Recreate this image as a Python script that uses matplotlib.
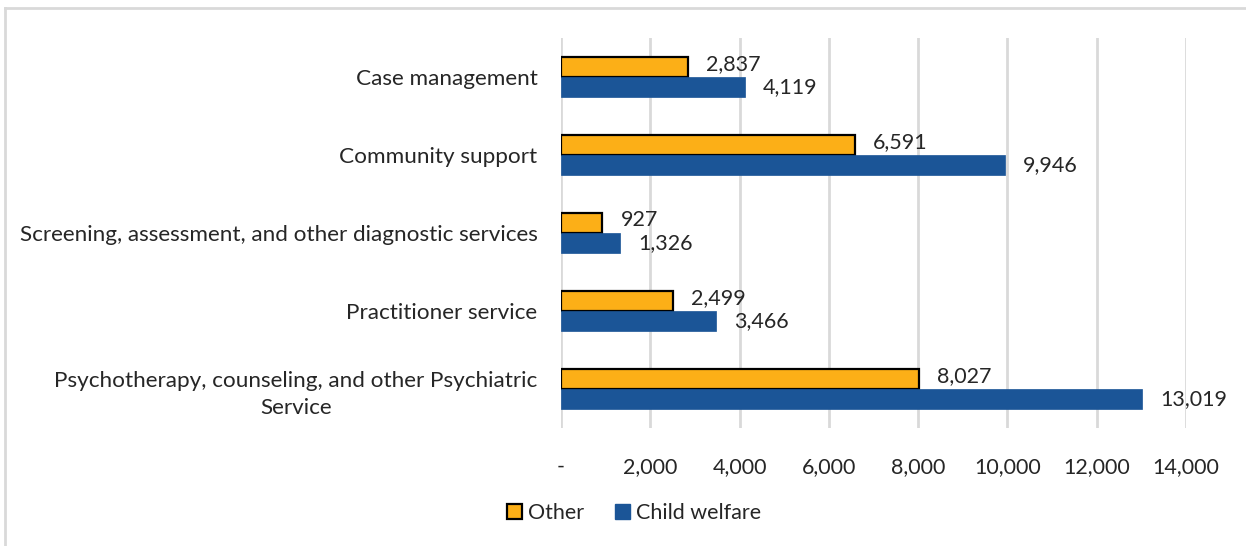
import matplotlib
matplotlib.use("Agg")
import matplotlib.pyplot as plt
import numpy as np
from matplotlib.lines import Line2D

categories = ["Case management", "Community support",
              "Screening, assessment, and other diagnostic services",
              "Practitioner service",
              "Psychotherapy, counseling, and other Psychiatric\nService"]
other = [2837, 6591, 927, 2499, 8027]
child_welfare = [4119, 9946, 1326, 3466, 13019]
xticks = [0, 2000, 4000, 6000, 8000, 10000, 12000, 14000]
xticklabels = ["-", "2,000", "4,000", "6,000", "8,000", "10,000", "12,000", "14,000"]

plt.rcParams['font.family'] = ['Lato', 'DejaVu Sans']
fs = 15.5
txt = '#262626'
fig = plt.figure(figsize=(12.46, 5.46), dpi=100)
W, H = 1246, 546
ax = fig.add_axes([561 / W, 1 - 428 / H, (1186 - 561) / W, (428 - 38) / H])

y = np.arange(len(categories))
h = 0.262
orange = '#FCAF17'
blue = '#1B5597'
ax.barh(y - h / 2, other, height=h, color=orange, edgecolor='black', linewidth=1.6, label='Other', zorder=3)
ax.barh(y + h / 2, child_welfare, height=h, color=blue, edgecolor=blue, linewidth=0.5, label='Child welfare', zorder=3)

for yi, v in zip(y, other):
    ax.annotate(f"{v:,}", (v, yi - h / 2), xytext=(18, 3), textcoords='offset pixels',
                va='center', ha='left', fontsize=fs, color=txt)
for yi, v in zip(y, child_welfare):
    ax.annotate(f"{v:,}", (v, yi + h / 2), xytext=(18, 0), textcoords='offset pixels',
                va='center', ha='left', fontsize=fs, color=txt)

ax.set_xlim(0, 14000)
ax.set_ylim(len(categories) - 0.5, -0.5)
ax.set_yticks(y)
ax.set_yticklabels(categories, fontsize=16.2, color=txt, ha='right', multialignment='center',
                   linespacing=1.45)
ax.tick_params(axis='y', length=0, pad=17)
ax.set_xticks(xticks)
ax.set_xticklabels(xticklabels, fontsize=fs, color=txt)
ax.tick_params(axis='x', length=0, pad=21)
ax.grid(axis='x', color='#D9D9D9', linewidth=2, zorder=0)
for s in ax.spines.values():
    s.set_visible(False)

handles = [plt.Rectangle((0, 0), 1, 1, facecolor=orange, edgecolor='black', linewidth=1.6),
           plt.Rectangle((0, 0), 1, 1, facecolor=blue, edgecolor=blue)]
fig.legend(handles, ['Other', 'Child welfare'], loc='center', bbox_to_anchor=(634 / W, 1 - 513 / H),
           ncol=2, frameon=False, fontsize=fs, handlelength=0.7, handleheight=0.7,
           handletextpad=0.3, columnspacing=1.4, labelcolor=txt)

# outer border (top and left)
fig.add_artist(Line2D([5 / W, 1], [1 - 8 / H, 1 - 8 / H], color='#D9D9D9', linewidth=2, transform=fig.transFigure))
fig.add_artist(Line2D([5 / W, 5 / W], [0, 1 - 8 / H], color='#D9D9D9', linewidth=2, transform=fig.transFigure))

fig.savefig('out.png', dpi=100)
